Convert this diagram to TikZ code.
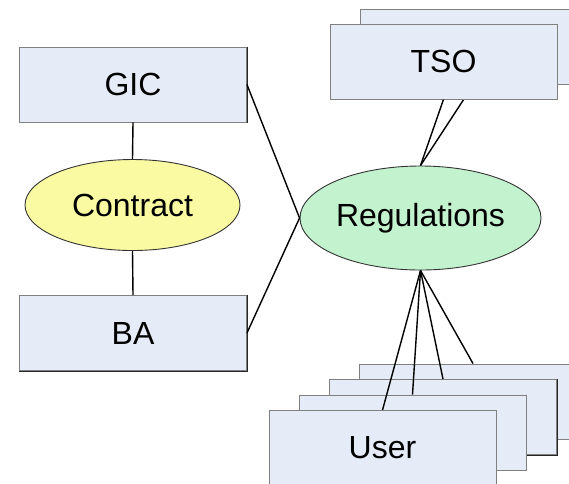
\documentclass[tikz,border=0pt]{standalone}
\usepackage{fontspec}
\setmainfont{Liberation Sans}
\usetikzlibrary{shapes.geometric}

\definecolor{boxfill}{HTML}{E6ECF7}
\definecolor{contractfill}{HTML}{FAFAA2}
\definecolor{regfill}{HTML}{C2F2CE}

\tikzset{
  entity/.style={rectangle, draw=black!50, line width=0.9pt, fill=boxfill,
    minimum width=227pt, minimum height=75pt, inner sep=0pt,
    font=\fontsize{32}{38}\selectfont,
    append after command={
      \pgfextra{\draw[black!85, line width=1.1pt]
        (\tikzlastnode.north east) -- (\tikzlastnode.south east) -- (\tikzlastnode.south west);}}},
  relation/.style={ellipse, draw=black!80, line width=0.9pt, inner sep=0pt,
    font=\fontsize{32}{38}\selectfont},
  link/.style={draw=black, line width=1.4pt}
}

\begin{document}
\begin{tikzpicture}[x=1pt, y=-1pt]
  \useasboundingbox (0,0) rectangle (569,483);
  \clip (0,0) rectangle (569,483);

  % left side: GIC -- Contract -- BA
  \node[entity] (gic) at (133,84.5) {GIC};
  \node[entity] (ba) at (133,333) {BA};
  \node[relation, fill=contractfill, minimum width=215pt, minimum height=91pt]
    (contract) at (132.5,205) {Contract};

  % central relation
  \node[relation, fill=regfill, minimum width=241pt, minimum height=104pt]
    (reg) at (420.5,218) {Regulations};

  % stacked TSO boxes
  \node[entity] (tsoB) at (473.5,46.5) {};
  \draw[link] (reg.north) -- (tsoB.south);
  \node[entity] (tsoA) at (443.5,61.5) {TSO};
  \draw[link] (reg.north) -- (tsoA.south);

  % stacked User boxes
  \node[entity] (userD) at (473,401.5) {};
  \node[entity] (userC) at (443,417) {};
  \node[entity] (userB) at (412.5,432.5) {};
  \node[entity] (userA) at (382.5,448) {User};
  \foreach \u in {userA,userB,userC,userD}
    \draw[link] (reg.south) -- (\u.north);

  % remaining connectors
  \draw[link] (gic.south) -- (contract.north);
  \draw[link] (contract.south) -- (ba.north);
  \draw[link] (gic.east) -- (reg.west);
  \draw[link] (ba.east) -- (reg.west);
\end{tikzpicture}
\end{document}
